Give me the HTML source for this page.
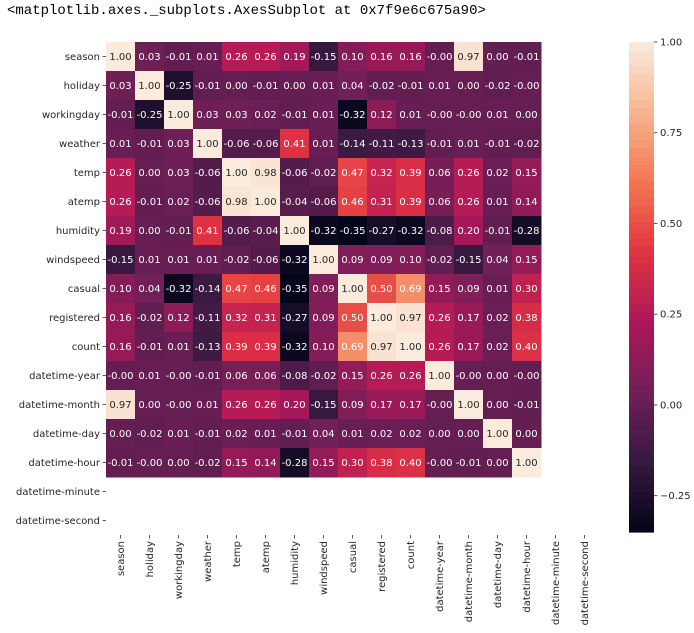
<!DOCTYPE html>
<html><head><meta charset="utf-8"><style>
body{margin:0;background:#fff;width:694px;height:633px;overflow:hidden}
svg text{font-family:"DejaVu Sans","Liberation Sans",sans-serif}
</style></head><body>
<div style="position:absolute;left:7px;top:3px;font:14px 'Liberation Mono',monospace;color:#000">&lt;matplotlib.axes._subplots.AxesSubplot at 0x7f9e6c675a90&gt;</div>
<svg id="chart" width="694" height="633" style="position:absolute;left:0;top:0"></svg>
<script>
const labels=["season","holiday","workingday","weather","temp","atemp","humidity","windspeed","casual","registered","count","datetime-year","datetime-month","datetime-day","datetime-hour","datetime-minute","datetime-second"];
const r0=[1.00,0.03,-0.01,0.01,0.26,0.26,0.19,-0.15,0.10,0.16,0.16,-0.00,0.97,0.00,-0.01];
const r1=[0.03,1.00,-0.25,-0.01,0.00,-0.01,0.00,0.01,0.04,-0.02,-0.01,0.01,0.00,-0.02,-0.00];
const r2=[-0.01,-0.25,1.00,0.03,0.03,0.02,-0.01,0.01,-0.32,0.12,0.01,-0.00,-0.00,0.01,0.00];
const r3=[0.01,-0.01,0.03,1.00,-0.06,-0.06,0.41,0.01,-0.14,-0.11,-0.13,-0.01,0.01,-0.01,-0.02];
const r4=[0.26,0.00,0.03,-0.06,1.00,0.98,-0.06,-0.02,0.47,0.32,0.39,0.06,0.26,0.02,0.15];
const r5=[0.26,-0.01,0.02,-0.06,0.98,1.00,-0.04,-0.06,0.46,0.31,0.39,0.06,0.26,0.01,0.14];
const r6=[0.19,0.00,-0.01,0.41,-0.06,-0.04,1.00,-0.32,-0.35,-0.27,-0.32,-0.08,0.20,-0.01,-0.28];
const r7=[-0.15,0.01,0.01,0.01,-0.02,-0.06,-0.32,1.00,0.09,0.09,0.10,-0.02,-0.15,0.04,0.15];
const r8=[0.10,0.04,-0.32,-0.14,0.47,0.46,-0.35,0.09,1.00,0.50,0.69,0.15,0.09,0.01,0.30];
const r9=[0.16,-0.02,0.12,-0.11,0.32,0.31,-0.27,0.09,0.50,1.00,0.97,0.26,0.17,0.02,0.38];
const r10=[0.16,-0.01,0.01,-0.13,0.39,0.39,-0.32,0.10,0.69,0.97,1.00,0.26,0.17,0.02,0.40];
const r11=[-0.00,0.01,-0.00,-0.01,0.06,0.06,-0.08,-0.02,0.15,0.26,0.26,1.00,-0.00,0.00,-0.00];
const r12=[0.97,0.00,-0.00,0.01,0.26,0.26,0.20,-0.15,0.09,0.17,0.17,-0.00,1.00,0.00,-0.01];
const r13=[0.00,-0.02,0.01,-0.01,0.02,0.01,-0.01,0.04,0.01,0.02,0.02,0.00,0.00,1.00,0.00];
const r14=[-0.01,-0.00,0.00,-0.02,0.15,0.14,-0.28,0.15,0.30,0.38,0.40,-0.00,-0.01,0.00,1.00];
const rows=[r0,r1,r2,r3,r4,r5,r6,r7,r8,r9,r10,r11,r12,r13,r14];
const cbTicks=[1.00,0.75,0.50,0.25,0.00,-0.25];
const cbLabels=["1.00","0.75","0.50","0.25","0.00","\u22120.25"];
const vmin=-0.35,vmax=1.0;

const NS="http://www.w3.org/2000/svg";
const svg=document.getElementById('chart');
const L=106,T=42,C=29;
const xPos=i=>L+i*C, yPos=i=>T+i*C;
const cbTop=42,cbBot=532,cbL=629,cbW=25;
const cbY=v=>cbBot-(v-vmin)/(vmax-vmin)*(cbBot-cbTop);
const stops=[[0,[3,5,26]],[0.143,[53,25,62]],[0.286,[112,31,87]],[0.429,[173,23,89]],[0.571,[225,51,66]],[0.714,[243,118,81]],[0.857,[246,180,143]],[1,[250,235,221]]];
function cmap(t){t=Math.max(0,Math.min(1,t));for(let i=1;i<stops.length;i++){if(t<=stops[i][0]){const a=stops[i-1],b=stops[i];const f=(t-a[0])/(b[0]-a[0]);return a[1].map((c,k)=>Math.round(c+(b[1][k]-c)*f));}}return stops[stops.length-1][1];}
function lum(c){const l=c.map(v=>{v/=255;return v<=0.03928?v/12.92:Math.pow((v+0.055)/1.055,2.4)});return 0.2126*l[0]+0.7152*l[1]+0.0722*l[2];}
function fmt(v){return (v<0||Object.is(v,-0))?'-'+Math.abs(v).toFixed(2):v.toFixed(2);}
function mk(tag,attrs){const e=document.createElementNS(NS,tag);for(const k in attrs)e.setAttribute(k,attrs[k]);svg.appendChild(e);return e;}

rows.forEach((row,i)=>{row.forEach((v,j)=>{
  const c=cmap((v-vmin)/(vmax-vmin));
  const r=mk('rect',{x:xPos(j),y:yPos(i),width:C+0.5,height:C+0.5,fill:`rgb(${c})`});
  
  
  const t=mk('text',{x:xPos(j)+C/2,y:yPos(i)+C/2+3.5,'text-anchor':'middle','font-size':'10',fill:lum(c)>0.408?'#262626':'#fff'});
  t.textContent=fmt(v);
  
  
});});

labels.forEach((lab,i)=>{
  mk('line',{x1:L-3.5,x2:L,y1:yPos(i)+C/2,y2:yPos(i)+C/2,stroke:'#333','stroke-width':0.8});
  const t=mk('text',{x:L-6,y:yPos(i)+C/2+3.5,'text-anchor':'end','font-size':'10',fill:'#262626'});
  t.textContent=lab;
  
  
  const cx=xPos(i)+C/2, by=T+17*C;
  mk('line',{x1:cx,x2:cx,y1:by,y2:by+3.5,stroke:'#333','stroke-width':0.8});
  const tx=mk('text',{x:0,y:0,'text-anchor':'end','font-size':'10',fill:'#262626',transform:`translate(${cx+3.5},${by+6}) rotate(-90)`});
  tx.textContent=lab;
  
  
});

const N=60;
for(let k=0;k<N;k++){
  const v0=vmin+(vmax-vmin)*k/N, v1=vmin+(vmax-vmin)*(k+1)/N;
  const c=cmap((k+0.5)/N);
  const r=mk('rect',{x:cbL,y:cbY(v1),width:cbW,height:cbY(v0)-cbY(v1)+0.6,fill:`rgb(${c})`});
  
  
}
cbTicks.forEach((v,i)=>{
  const y=cbY(v);
  mk('line',{x1:cbL+cbW,x2:cbL+cbW+3.5,y1:y,y2:y,stroke:'#333','stroke-width':0.8});
  const t=mk('text',{x:cbL+cbW+6,y:y+3.5,'font-size':'10',fill:'#262626'});
  t.textContent=cbLabels[i];
  
  
});
</script>
</body></html>
